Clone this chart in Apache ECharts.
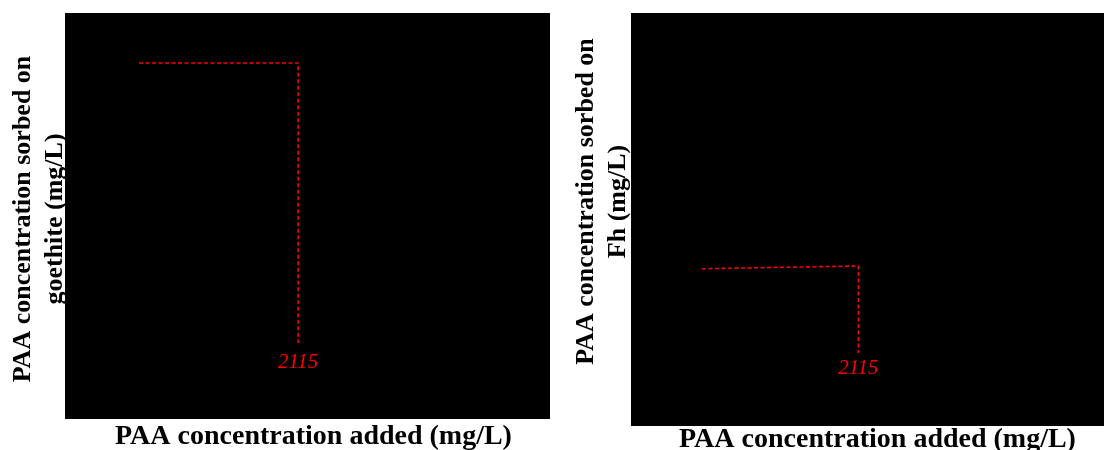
<!DOCTYPE html>
<html>
<head>
<meta charset="utf-8">
<script src="https://cdn.jsdelivr.net/npm/echarts@6/dist/echarts.min.js"></script>
<style>
html,body{margin:0;padding:0;background:#fff;}
#chart{width:1104px;height:450px;}
</style>
</head>
<body>
<div id="chart"></div>
<script>
// ---- data ----
const goethiteX = [671, 2115, 2115];
const goethiteY = [350.7, 350.7, 74.9];
const fhX = [660, 2115, 2115];
const fhY = [152.3, 155.0, 70.7];
const markerLabel = '2115';
const xTitle = 'PAA concentration added (mg/L)';
const yTitleGoethite = 'PAA concentration sorbed on\ngoethite (mg/L)';
const yTitleFh = 'PAA concentration sorbed on\nFh (mg/L)';

const xTitleFont = {
  fontFamily: 'Liberation Serif', fontWeight: 'bold', fontSize: 28,
  color: '#000', lineHeight: 28
};
const yTitleFont = {
  fontFamily: 'Liberation Serif', fontWeight: 'bold', fontSize: 26,
  color: '#000', lineHeight: 32
};

function buildData(xs, ys, labelDistance) {
  return xs.map((x, i) => {
    const item = { value: [x, ys[i]] };
    if (i === xs.length - 1) {
      item.label = {
        show: true, position: 'bottom', distance: labelDistance,
        formatter: markerLabel, color: '#ff0000',
        fontFamily: 'Liberation Serif', fontStyle: 'italic', fontSize: 21
      };
    }
    return item;
  });
}

const hiddenAxis = {
  axisLine: { show: false }, axisTick: { show: false },
  axisLabel: { show: false }, splitLine: { show: false }
};

const chart = echarts.init(document.getElementById('chart'), null, { renderer: 'canvas' });
chart.setOption({
  animation: false,
  backgroundColor: '#fff',
  grid: [
    { left: 65, top: 13, width: 485, height: 406, show: true, backgroundColor: '#000', borderWidth: 0,
      containLabel: false, outerBoundsMode: 'none' },
    { left: 631, top: 13, width: 473, height: 413, show: true, backgroundColor: '#000', borderWidth: 0,
      containLabel: false, outerBoundsMode: 'none' }
  ],
  xAxis: [
    Object.assign({ gridIndex: 0, type: 'value', min: 0, max: 4400,
      name: xTitle, nameLocation: 'middle', nameGap: 4,
      nameTextStyle: Object.assign({}, xTitleFont, { padding: [0, 0, 0, 12] }) }, hiddenAxis),
    Object.assign({ gridIndex: 1, type: 'value', min: 0, max: 4400,
      name: xTitle, nameLocation: 'middle', nameGap: 0,
      nameTextStyle: Object.assign({}, xTitleFont, { padding: [0, 0, 0, 20] }) }, hiddenAxis)
  ],
  yAxis: [
    Object.assign({ gridIndex: 0, type: 'value', min: 0, max: 400,
      name: yTitleGoethite, nameLocation: 'middle', nameGap: -6,
      nameTextStyle: Object.assign({}, yTitleFont, { padding: [0, 6, 0, 0] }) }, hiddenAxis),
    Object.assign({ gridIndex: 1, type: 'value', min: 0, max: 400,
      name: yTitleFh, nameLocation: 'middle', nameGap: -3,
      nameTextStyle: Object.assign({}, yTitleFont, { padding: [0, 0, 0, 36] }) }, hiddenAxis)
  ],
  series: [
    { type: 'line', xAxisIndex: 0, yAxisIndex: 0, showSymbol: true, symbol: 'circle', symbolSize: 0,
      lineStyle: { color: '#ff0000', width: 1.6, type: [4, 2.5] },
      itemStyle: { color: '#ff0000' },
      data: buildData(goethiteX, goethiteY, 9) },
    { type: 'line', xAxisIndex: 1, yAxisIndex: 1, showSymbol: true, symbol: 'circle', symbolSize: 0,
      lineStyle: { color: '#ff0000', width: 1.6, type: [4, 2.5] },
      itemStyle: { color: '#ff0000' },
      data: buildData(fhX, fhY, 5) }
  ]
});
</script>
</body>
</html>
